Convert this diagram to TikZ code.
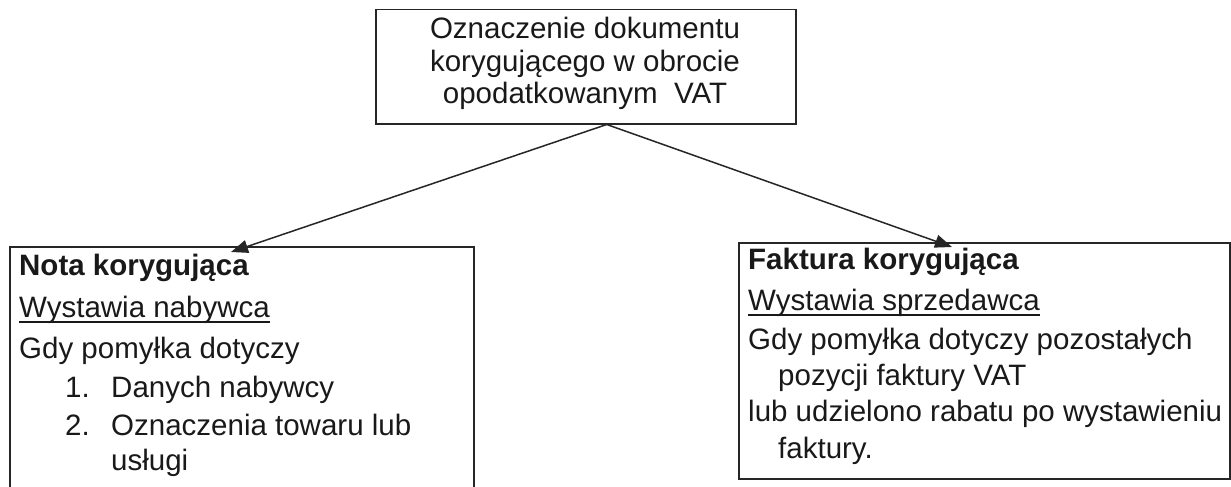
\documentclass[tikz,border=0pt]{standalone}
\usepackage{fontspec}
\setmainfont{Liberation Sans}
\usetikzlibrary{arrows.meta,calc}
\newcommand\myul[1]{\setbox0\hbox{#1}\rlap{\rule[-5.5pt]{\wd0}{1.5pt}}\box0}
\begin{document}
\begin{tikzpicture}[x=1pt,y=-1pt,
  box/.style={draw=black!85, line width=1.5pt, rectangle, inner sep=0pt, anchor=north west},
  txt/.style={anchor=base west, inner sep=0pt, text=black!90, font=\fontsize{29.5}{34}\selectfont},
  ctxt/.style={anchor=base, inner sep=0pt, text=black!90, font=\fontsize{29.5}{34}\selectfont},
  conn/.style={draw=black!85, line width=1.5pt, -{Triangle[length=17pt,width=13pt]}}]
\useasboundingbox (0,0) rectangle (1231,487);
\clip (0,0) rectangle (1231,487);
% top box
\node[box, minimum width=420pt, minimum height=114pt] (top) at (375,9) {};
\node[ctxt] (t1) at (585,39) {Oznaczenie dokumentu};
\node[ctxt] (t2) at (585,71) {korygującego w obrocie};
\node[ctxt] (t3) at (585,103) {opodatkowanym~ VAT};
% left box
\node[box, minimum width=464pt, minimum height=260pt] (left) at (9,246) {};
\node[txt] (l1) at (19,275) {\bfseries Nota korygująca};
\node[txt] (l2) at (19,317) {\myul{Wystawia nabywca}};
\node[txt] (l3) at (19,358) {Gdy pomyłka dotyczy};
\node[txt] (l4n) at (65,397) {1.};
\node[txt] (l4) at (111,397) {Danych nabywcy};
\node[txt] (l5n) at (65,435) {2.};
\node[txt] (l5) at (111,435) {Oznaczenia towaru lub};
\node[txt] (l6) at (111,470) {usługi};
% right box
\node[box, minimum width=491pt, minimum height=236pt] (right) at (738,242) {};
\node[txt] (r1) at (748,269) {\bfseries Faktura korygująca};
\node[txt] (r2) at (748,310) {\myul{Wystawia sprzedawca}};
\node[txt] (r3) at (748,349) {Gdy pomyłka dotyczy pozostałych};
\node[txt] (r4) at (778,385) {pozycji faktury VAT};
\node[txt] (r5) at (748,421) {lub udzielono rabatu po wystawieniu};
\node[txt] (r6) at (778,458) {faktury.};
% connectors
\coordinate (apex) at ($(top.south)+(21,0)$);
\coordinate (ltip) at ($(left.north west)+(222,6)$);
\coordinate (rtip) at ($(right.north west)+(214,5)$);
\draw[conn] (apex) -- (ltip);
\draw[conn] (apex) -- (rtip);
\end{tikzpicture}
\end{document}
